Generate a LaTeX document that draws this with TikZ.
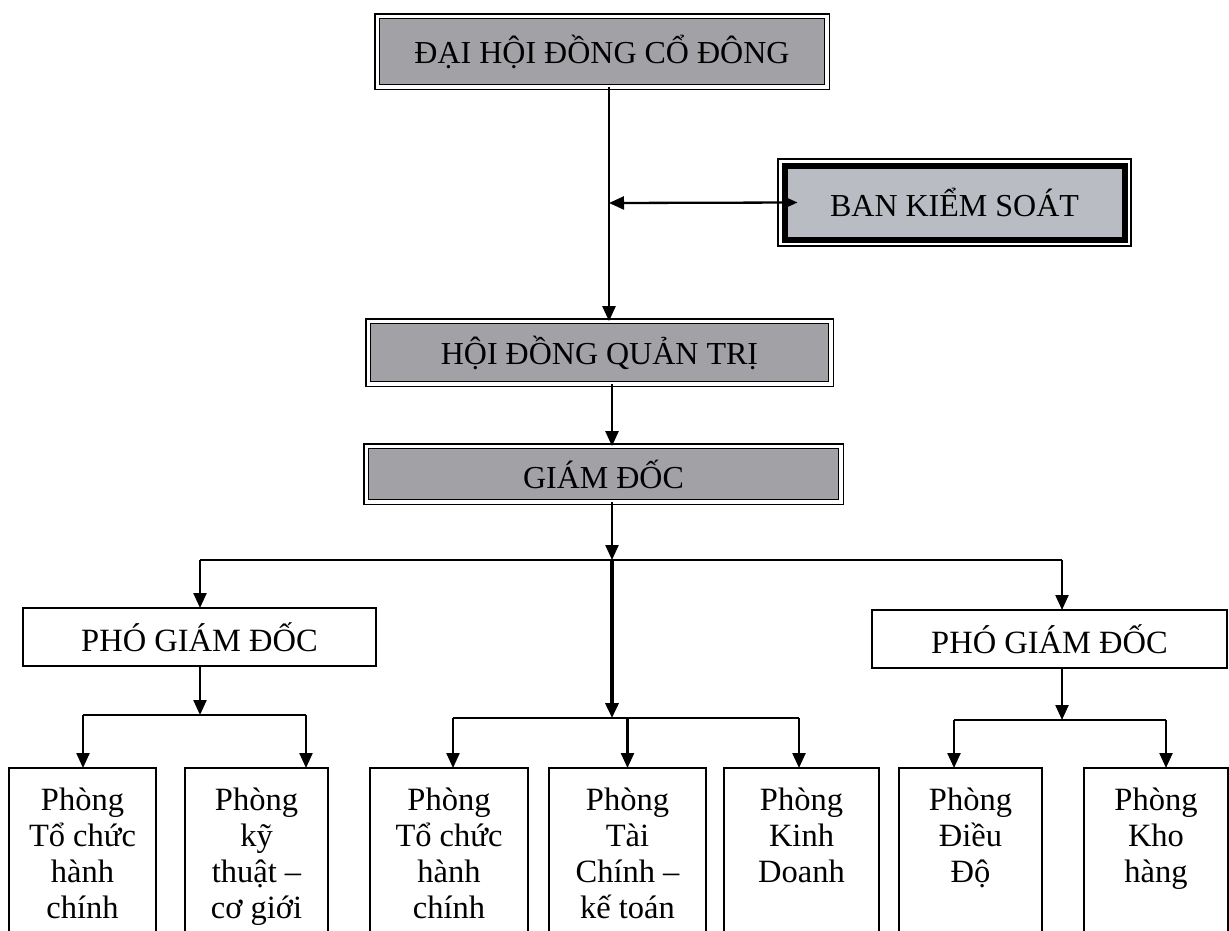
\documentclass[tikz,border=0pt]{standalone}
\usepackage{fontspec}
\setmainfont{Liberation Serif}
\usetikzlibrary{arrows.meta,positioning}
\definecolor{boxgray}{RGB}{162,162,166}
\definecolor{bksgray}{RGB}{186,188,196}
\begin{document}
\begin{tikzpicture}[x=1pt,y=-1pt,
  every node/.style={outer sep=0pt},
  headbox/.style={draw, line width=1.5pt, double, double distance=3.3pt, fill=boxgray,
    inner sep=0pt, font=\fontsize{32}{36}\selectfont},
  bksbox/.style={draw, line width=6pt, fill=bksgray, inner sep=0pt,
    font=\fontsize{32}{36}\selectfont, minimum width=340pt, minimum height=74pt},
  pgdbox/.style={draw, line width=1.8pt, inner sep=0pt, minimum height=58pt,
    font=\fontsize{32.5}{36}\selectfont},
  deptbox/.style={draw, line width=1.8pt, inner sep=0pt, anchor=north, minimum height=200pt},
  depttext/.style={anchor=north, align=center, inner sep=0pt, font=\fontsize{32.5}{36}\selectfont},
  conn/.style={line width=2.3pt},
  arr/.style={line width=2.3pt, -{Triangle[length=15pt,width=13pt]}},
  tarr/.style={line width=3.6pt, -{Triangle[length=15pt,width=13pt]}}
]
\useasboundingbox (0,0) rectangle (1229,930);
\fill[white] (0,0) rectangle (1229,930);
\clip (0,0) rectangle (1229,930);

% head boxes
\node[headbox, minimum width=449.7pt, minimum height=70.7pt] (dh) at (602,51.5) {ĐẠI HỘI ĐỒNG CỔ ĐÔNG};
\node[headbox, minimum width=462.7pt, minimum height=62.7pt] (hd) at (599.5,352.5) {HỘI ĐỒNG QUẢN TRỊ};
\node[headbox, minimum width=474.7pt, minimum height=55.7pt] (gd) at (603.5,474) {GIÁM ĐỐC};

% ban kiem soat
\node[bksbox] (bks) at (954.5,202.5) {BAN KIỂM SOÁT};
\draw[line width=1.2pt] ([shift={(-6.5,-6.5)}]bks.north west) rectangle ([shift={(6.5,6.5)}]bks.south east);

% vice directors
\node[pgdbox, minimum width=353pt] (pl) at (199.5,637) {PHÓ GIÁM ĐỐC};
\node[pgdbox, minimum width=355pt] (pr) at (1049.5,639) {PHÓ GIÁM ĐỐC};

% departments
\node[deptbox, minimum width=147pt] (b1) at (82.5,768) {};
\node[deptbox, minimum width=143pt] (b2) at (256.5,768) {};
\node[deptbox, minimum width=158pt] (b3) at (449,768) {};
\node[deptbox, minimum width=157pt] (b4) at (627.5,768) {};
\node[deptbox, minimum width=155pt] (b5) at (801.5,768) {};
\node[deptbox, minimum width=143pt] (b6) at (970.5,768) {};
\node[deptbox, minimum width=144pt] (b7) at (1156,768) {};

\node[depttext] (t1) at ([yshift=-20pt]b1.north) {Phòng\\Tổ chức\\hành\\chính};
\node[depttext] (t2) at ([yshift=-20pt]b2.north) {Phòng\\kỹ\\thuật –\\cơ giới};
\node[depttext] (t3) at ([yshift=-20pt]b3.north) {Phòng\\Tổ chức\\hành\\chính};
\node[depttext] (t4) at ([yshift=-20pt]b4.north) {Phòng\\Tài\\Chính –\\kế toán};
\node[depttext] (t5) at ([yshift=-20pt]b5.north) {Phòng\\Kinh\\Doanh};
\node[depttext] (t6) at ([yshift=-20pt]b6.north) {Phòng\\Điều\\Độ};
\node[depttext] (t7) at ([yshift=-20pt]b7.north) {Phòng\\Kho\\hàng};

% junction coordinates
\coordinate (v1) at (609,203);
\coordinate (v2) at (612,420);
\coordinate (j1) at (612,560);
\coordinate (j2) at (612,718);
\coordinate (hl) at (200,560);
\coordinate (hr) at (1062,560);
\coordinate (ql) at (200,715);
\coordinate (qr) at (1062,720);
\coordinate (m3) at (453,718);
\coordinate (m5) at (799,718);
\coordinate (l1) at (83,715);
\coordinate (l2) at (306,715);
\coordinate (r6) at (954,720);
\coordinate (r7) at (1166,720);

% top chain
\draw[arr] (dh.south -| v1) -- (hd.north -| v1);
\draw[line width=2.3pt, {Triangle[length=15pt,width=13pt]}-{Triangle[length=15pt,width=13pt]}] (v1) -- ([xshift=13pt]bks.west);
\draw[arr] (hd.south -| v2) -- (gd.north -| v2);
\draw[arr] (gd.south -| j1) -- (j1);

% first level distribution
\draw[conn] (hl) -- (hr);
\draw[arr] (hl) -- (pl.north -| hl);
\draw[arr] (hr) -- (pr.north -| hr);
\draw[tarr] (j1) -- (j2);

% left vice director
\draw[arr] (pl.south -| ql) -- (ql);
\draw[conn] (l1) -- (l2);
\draw[arr] (l1) -- (b1.north -| l1);
\draw[arr] (l2) -- (b2.north -| l2);

% centre
\draw[conn] (m3) -- (m5);
\draw[arr] (m3) -- (b3.north -| m3);
\draw[arr] (j2 -| b4.north) -- (b4.north);
\draw[arr] (m5) -- (b5.north -| m5);

% right vice director
\draw[arr] (pr.south -| qr) -- (qr);
\draw[conn] (r6) -- (r7);
\draw[arr] (r6) -- (b6.north -| r6);
\draw[arr] (r7) -- (b7.north -| r7);
\end{tikzpicture}
\end{document}
